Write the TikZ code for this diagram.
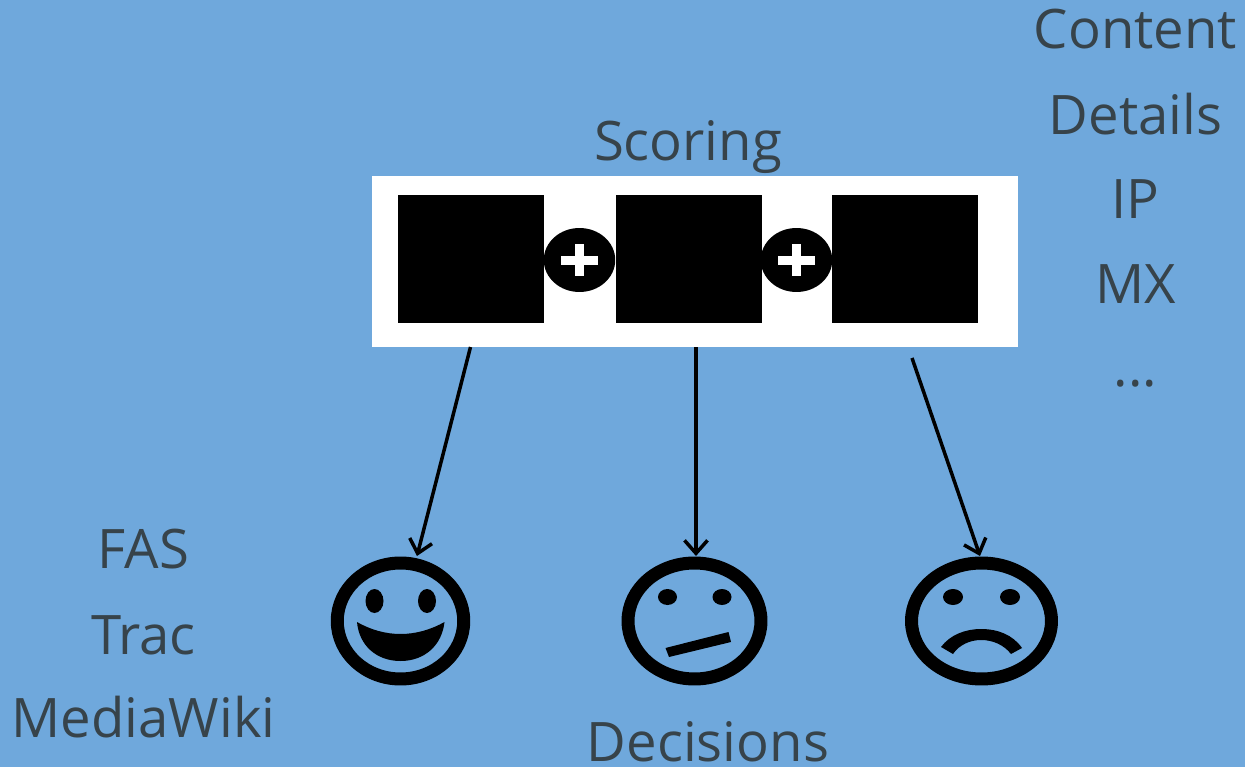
\documentclass[tikz,border=0pt]{standalone}
\usepackage{fontspec}
\setmainfont{Open Sans}
\usetikzlibrary{shapes.geometric,arrows.meta,positioning}
\definecolor{bgblue}{HTML}{6FA8DC}
\definecolor{labelgray}{HTML}{37434A}

\begin{document}
\begin{tikzpicture}[x=0.02cm,y=-0.02cm,
  label/.style={text=labelgray,font=\fontsize{31}{32}\selectfont,inner sep=0pt,outer sep=0pt,anchor=base},
  scorebox/.style={fill=black,minimum width=2.92cm,minimum height=2.56cm,inner sep=0pt,outer sep=0pt},
  plus/.style={ellipse,fill=black,minimum width=1.43cm,minimum height=1.28cm,inner sep=0pt},
  face/.style={ellipse,draw=black,line width=0.26cm,minimum height=2.32cm,inner sep=0pt},
  eye/.style={ellipse,fill=black,inner sep=0pt},
  pointer/.style={line width=0.07cm,-{Straight Barb[length=0.26cm,width=0.46cm]}}]

        \fill[bgblue] (0,0) rectangle (1245,767);
        \useasboundingbox (0,0) rectangle (1245,767);

        \node (panel) [fill=white,minimum width=12.92cm,minimum height=3.42cm,inner sep=0pt,outer sep=0pt] at (695,261.5) {};

        \node (A) [scorebox] at (471,259) {};
        \node (B) [scorebox,right = 1.44cm of A] {};
        \node (C) [scorebox,right = 1.4cm of B] {};

        \node (P1) [plus] at (579.5,260) {};
        \node (P2) [plus] at (796.5,260) {};
        \foreach \x in {579.5,796.5} {
          \fill[white] (\x-18.5,255.5) rectangle (\x+18.5,264.5);
          \fill[white] (\x-4.5,244) rectangle (\x+4.5,276);
        }

        \node (scoring) [label] at (688,161) {Scoring};
        \node (decisions) [label] at (708,761) {Decisions};

        \node (content) [label] at (1135.5,49) {Content};
        \node (details) [label] at (1135.5,134) {Details};
        \node (ip) [label] at (1135.5,218) {IP};
        \node (mx) [label] at (1135.5,303) {MX};
        \node (more) [label] at (1135.5,386) {...};

        \node (fas) [label] at (143.5,568) {FAS};
        \node (trac) [label] at (143.5,654) {Trac};
        \node (wiki) [label] at (143.5,737) {MediaWiki};

        % faces
        \node (happy) [face,minimum width=2.53cm] at (400.5,621) {};
        \node [eye,minimum width=0.36cm,minimum height=0.48cm] at (374.5,601) {};
        \node [eye,minimum width=0.36cm,minimum height=0.48cm] at (427,601) {};
        \fill (357,622) .. controls (385,638) and (416,638) .. (444.5,622)
          .. controls (442,645) and (425,661) .. (400.5,661)
          .. controls (376,661) and (359,645) .. (357,622) -- cycle;

        \node (neutral) [face,minimum width=2.66cm] at (694.5,621) {};
        \node [eye,minimum width=0.38cm,minimum height=0.32cm] at (667.5,597) {};
        \node [eye,minimum width=0.38cm,minimum height=0.32cm] at (722,597) {};
        \fill (665.5,648) -- (728.5,632) -- (731,642) -- (669,657) -- cycle;

        \node (sad) [face,minimum width=2.8cm] at (981.5,621) {};
        \node [eye,minimum width=0.4cm,minimum height=0.32cm] at (953,597) {};
        \node [eye,minimum width=0.4cm,minimum height=0.32cm] at (1010,597) {};
        \fill (941,647) .. controls (950,635) and (965,629) .. (981,629)
          .. controls (998,629) and (1013,635) .. (1022,648) -- (1011,654)
          .. controls (1004,645) and (993,640) .. (981,640)
          .. controls (970,640) and (959,645) .. (953,654) -- cycle;

        \coordinate (S1) at (470.5,347);
        \coordinate (S2) at (696,347);
        \coordinate (S3) at (912,358);
        \coordinate (E1) at (417,556);
        \coordinate (E2) at (696,556);
        \coordinate (E3) at (980,556);
        \draw[pointer] (S1) -- (E1);
        \draw[pointer] (S2) -- (E2);
        \draw[pointer] (S3) -- (E3);
      \end{tikzpicture}
\end{document}
